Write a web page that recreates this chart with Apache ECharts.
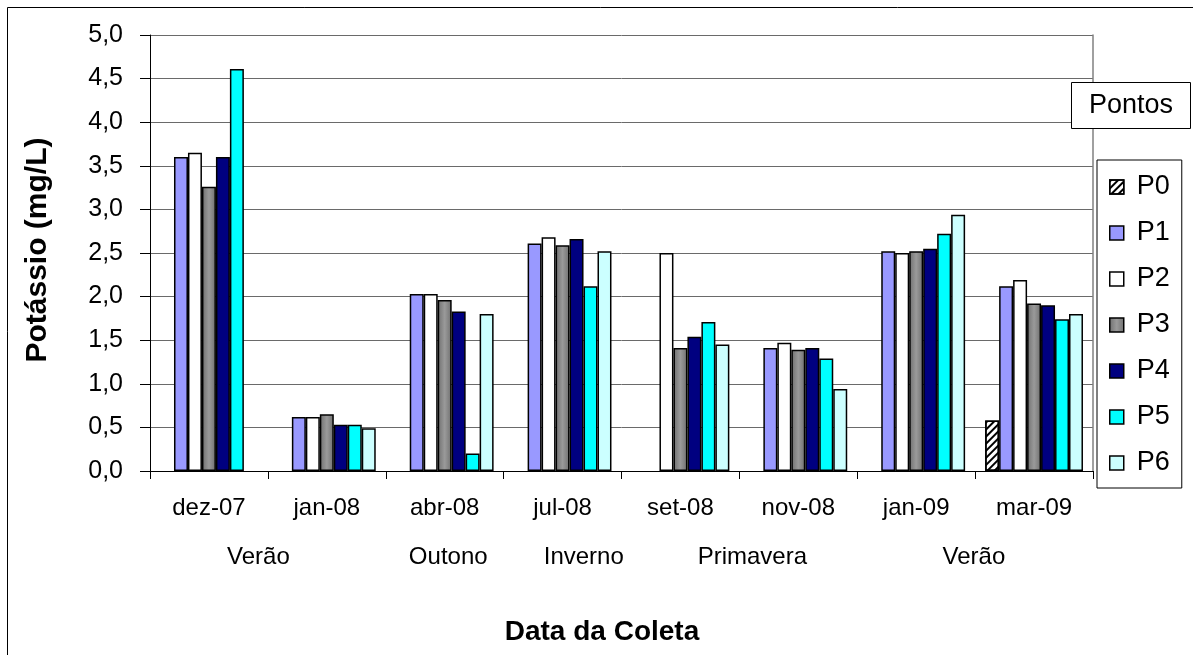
<!DOCTYPE html>
<html>
<head>
<meta charset="utf-8">
<script src="https://cdn.jsdelivr.net/npm/echarts@6/dist/echarts.min.js"></script>
<style>
html,body{margin:0;padding:0;background:#fff;}
#c{width:1193px;height:655px;}
</style>
</head>
<body>
<div id="c"></div>
<script>
// ---- data ----
var categories = ['dez-07','jan-08','abr-08','jul-08','set-08','nov-08','jan-09','mar-09'];
var seasonNames = ['Verão','Outono','Inverno','Primavera','Verão'];
var seasonPos = [0.92, 2.53, 3.68, 5.11, 6.99]; // in category units from the left edge
var seriesNames = ['P0','P1','P2','P3','P4','P5','P6'];
var P0 = [null, null, null, null, null, null, null, 0.58];
var P1 = [3.60, 0.62, 2.03, 2.61, null, 1.41, 2.52, 2.12];
var P2 = [3.65, 0.62, 2.03, 2.68, 2.50, 1.47, 2.50, 2.19];
var P3 = [3.26, 0.65, 1.96, 2.59, 1.41, 1.39, 2.52, 1.92];
var P4 = [3.60, 0.53, 1.83, 2.66, 1.54, 1.41, 2.55, 1.90];
var P5 = [4.61, 0.53, 0.20, 2.12, 1.71, 1.29, 2.72, 1.74];
var P6 = [null, 0.49, 1.80, 2.52, 1.45, 0.94, 2.94, 1.80];
var yMin = 0, yMax = 5, yStep = 0.5;
var yTitle = 'Potássio (mg/L)';
var xTitle = 'Data da Coleta';
var legendTitle = 'Pontos';

// ---- styling ----
var FONT = '"Liberation Sans", Arial, sans-serif';
var gridL = 150, gridR = 1093, gridT = 35, gridB = 471;
var colors = {
  P0: '#ffffff',
  P1: '#9999ff',
  P2: '#ffffff',
  P3: new echarts.graphic.LinearGradient(0,0,1,0,[{offset:0,color:'#6f6f6f'},{offset:0.5,color:'#9a9a9a'},{offset:1,color:'#6f6f6f'}]),
  P4: '#000080',
  P5: '#00ffff',
  P6: '#ccffff'
};
var values = {P0:P0,P1:P1,P2:P2,P3:P3,P4:P4,P5:P5,P6:P6};

var series = seriesNames.map(function(n){
  var s = {
    name: n, type: 'bar', data: values[n],
    barGap: '0%', barCategoryGap: '17%',
    itemStyle: {color: colors[n], borderColor: '#000', borderWidth: 1.5},
    emphasis: {disabled: true},
    animation: false
  };
  if (n === 'P0') {
    s.itemStyle.decal = {symbol:'rect', symbolSize:1, color:'#000', dashArrayX:[1,0], dashArrayY:[2,3], rotation: -Math.PI/4};
  }
  return s;
});

var catW = (gridR - gridL) / categories.length;
var graphics = [
  {type:'rect', shape:{x:7.5,y:7.5,width:1250,height:700}, style:{fill:null, stroke:'#000', lineWidth:1}, silent:true, z:0},
  {type:'text', x:38, y:250, rotation:Math.PI/2, style:{text:yTitle, font:'bold 30px '+FONT, fill:'#000', textAlign:'center', textVerticalAlign:'middle'}},
  {type:'text', x:602, y:632, style:{text:xTitle, font:'bold 28px '+FONT, fill:'#000', textAlign:'center', textVerticalAlign:'middle'}},
  {type:'rect', shape:{x:1071.5,y:82.5,width:119,height:46}, style:{fill:'#fff', stroke:'#000', lineWidth:1}, z:10},
  {type:'text', x:1131, y:105.5, z:11, style:{text:legendTitle, font:'27px '+FONT, fill:'#000', textAlign:'center', textVerticalAlign:'middle'}}
];
seasonNames.forEach(function(s,i){
  graphics.push({type:'text', x: gridL + seasonPos[i]*catW, y:557, style:{text:s, font:'24px '+FONT, fill:'#000', textAlign:'center', textVerticalAlign:'middle'}});
});

var option = {
  backgroundColor: '#fff',
  animation: false,
  textStyle: {fontFamily: FONT},
  grid: {left: gridL, top: gridT, width: gridR - gridL, height: gridB - gridT, containLabel: false},
  legend: {
    data: seriesNames, orient: 'vertical', left: 1097, top: 160,
    icon: 'rect', itemWidth: 14, itemHeight: 14, itemGap: 16,
    padding: [12, 12, 10, 12],
    borderColor: '#000', borderWidth: 1, backgroundColor: '#fff',
    itemStyle: {borderColor: '#000', borderWidth: 1.5},
    textStyle: {fontSize: 27, color: '#000', fontFamily: FONT, lineHeight: 30, padding: [0,0,0,8]},
    selectedMode: false
  },
  xAxis: {
    type: 'category', data: categories,
    axisLine: {lineStyle: {color: '#000', width: 1}},
    axisTick: {show: true, alignWithLabel: false, length: 8, lineStyle: {color: '#000'}},
    axisLabel: {fontSize: 24, color: '#000', margin: 25, fontFamily: FONT, interval: 0},
    splitLine: {show: false}
  },
  yAxis: [{
    type: 'value', min: yMin, max: yMax, interval: yStep,
    axisLine: {show: true, lineStyle: {color: '#000', width: 1}},
    axisTick: {show: true, length: 10, lineStyle: {color: '#000'}},
    axisLabel: {fontSize: 25, color: '#000', margin: 27, fontFamily: FONT,
      formatter: function(v){ return v.toFixed(1).replace('.', ','); }},
    splitLine: {show: true, lineStyle: {color: '#6a6a6a', width: 1}}
  }, {
    type: 'value', min: yMin, max: yMax, interval: yStep, position: 'right',
    axisLine: {show: true, lineStyle: {color: '#808080', width: 1.5}},
    axisTick: {show: false}, axisLabel: {show: false}, splitLine: {show: false}
  }],
  series: series,
  graphic: graphics
};

var chart = echarts.init(document.getElementById('c'), null, {renderer: 'canvas'});
chart.setOption(option);
</script>
</body>
</html>
